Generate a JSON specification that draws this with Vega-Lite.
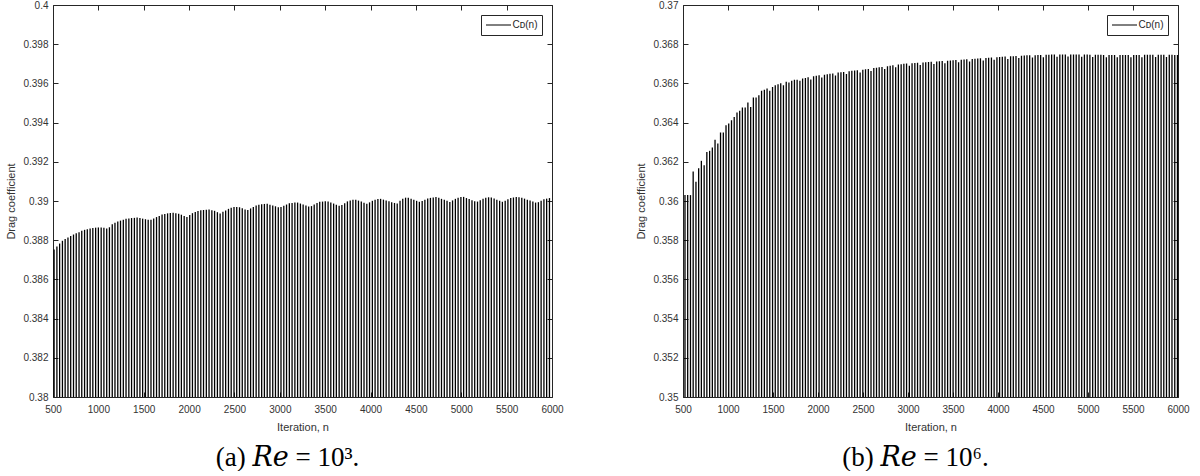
{
  "$schema": "https://vega.github.io/schema/vega-lite/v6.json",
  "background": "white",
  "padding": {"left": 5, "top": 0, "right": 5, "bottom": 0},
  "config": {
    "font": "Liberation Sans",
    "view": {"stroke": null},
    "axis": {
      "grid": false,
      "domainColor": "#262626",
      "domainWidth": 1,
      "tickColor": "#262626",
      "tickSize": -5,
      "labelColor": "#333333",
      "titleColor": "#333333",
      "labelFont": "Liberation Sans",
      "titleFont": "Liberation Sans",
      "labelFontSize": 10,
      "titleFontSize": 11,
      "titleFontWeight": "normal",
      "labelFlush": false,
      "labelOverlap": false
    },
    "title": {"font": "Liberation Serif, DejaVu Serif", "fontSize": 27, "fontWeight": "normal", "color": "black", "orient": "bottom", "anchor": "middle", "frame": "group", "offset": 13, "dx": -15},
    "legend": {
      "orient": "top-right",
      "offset": 10,
      "strokeColor": "#262626",
      "fillColor": "white",
      "padding": 4.5,
      "labelFont": "Liberation Sans",
      "labelFontSize": 10,
      "labelColor": "#262626",
      "symbolType": "M-1,0H4",
      "symbolSize": 100,
      "symbolStrokeWidth": 1,
      "labelOffset": 16,
      "title": null
    }
  },
  "datasets": {
    "re3": [
      {"n":512,"cd":0.38752},{"n":543,"cd":0.38768},{"n":573,"cd":0.38783},{"n":604,"cd":0.38797},{"n":634,"cd":0.38806},
      {"n":665,"cd":0.38814},{"n":695,"cd":0.38822},{"n":726,"cd":0.38829},{"n":756,"cd":0.38835},{"n":787,"cd":0.3884},
      {"n":817,"cd":0.38848},{"n":848,"cd":0.38853},{"n":878,"cd":0.38856},{"n":909,"cd":0.3886},{"n":939,"cd":0.38862},
      {"n":970,"cd":0.38864},{"n":1000,"cd":0.38865},{"n":1031,"cd":0.38865},{"n":1061,"cd":0.38864},{"n":1092,"cd":0.3886},
      {"n":1122,"cd":0.38866},{"n":1153,"cd":0.38881},{"n":1183,"cd":0.38889},{"n":1214,"cd":0.38895},{"n":1244,"cd":0.389},
      {"n":1275,"cd":0.38904},{"n":1305,"cd":0.38909},{"n":1336,"cd":0.38911},{"n":1366,"cd":0.38913},{"n":1397,"cd":0.38914},
      {"n":1427,"cd":0.38916},{"n":1458,"cd":0.38913},{"n":1488,"cd":0.3891},{"n":1519,"cd":0.38907},{"n":1549,"cd":0.38904},
      {"n":1580,"cd":0.38904},{"n":1610,"cd":0.38911},{"n":1641,"cd":0.38918},{"n":1671,"cd":0.38924},{"n":1702,"cd":0.38931},
      {"n":1732,"cd":0.38934},{"n":1763,"cd":0.38937},{"n":1793,"cd":0.38939},{"n":1824,"cd":0.3894},{"n":1854,"cd":0.38937},
      {"n":1885,"cd":0.38935},{"n":1915,"cd":0.3893},{"n":1946,"cd":0.38924},{"n":1976,"cd":0.38919},{"n":2007,"cd":0.38929},
      {"n":2037,"cd":0.38938},{"n":2068,"cd":0.38944},{"n":2098,"cd":0.38949},{"n":2129,"cd":0.38953},{"n":2159,"cd":0.38954},
      {"n":2190,"cd":0.38955},{"n":2220,"cd":0.38956},{"n":2251,"cd":0.38953},{"n":2281,"cd":0.3895},{"n":2312,"cd":0.38943},
      {"n":2342,"cd":0.38936},{"n":2373,"cd":0.38945},{"n":2403,"cd":0.38952},{"n":2434,"cd":0.3896},{"n":2464,"cd":0.38966},
      {"n":2495,"cd":0.3897},{"n":2525,"cd":0.38969},{"n":2556,"cd":0.38968},{"n":2586,"cd":0.38963},{"n":2617,"cd":0.38956},
      {"n":2647,"cd":0.38954},{"n":2678,"cd":0.38962},{"n":2708,"cd":0.3897},{"n":2739,"cd":0.38977},{"n":2769,"cd":0.38981},
      {"n":2800,"cd":0.38983},{"n":2830,"cd":0.38985},{"n":2861,"cd":0.38986},{"n":2891,"cd":0.38981},{"n":2922,"cd":0.38977},
      {"n":2952,"cd":0.38973},{"n":2983,"cd":0.38968},{"n":3013,"cd":0.38969},{"n":3044,"cd":0.38976},{"n":3074,"cd":0.38982},
      {"n":3105,"cd":0.38988},{"n":3135,"cd":0.3899},{"n":3166,"cd":0.38992},{"n":3196,"cd":0.38992},{"n":3227,"cd":0.38987},
      {"n":3257,"cd":0.38982},{"n":3288,"cd":0.38977},{"n":3318,"cd":0.38972},{"n":3349,"cd":0.38974},{"n":3379,"cd":0.38982},
      {"n":3410,"cd":0.3899},{"n":3440,"cd":0.38996},{"n":3471,"cd":0.38997},{"n":3501,"cd":0.38999},{"n":3532,"cd":0.38998},
      {"n":3562,"cd":0.38992},{"n":3593,"cd":0.38987},{"n":3623,"cd":0.38981},{"n":3654,"cd":0.38976},{"n":3684,"cd":0.3898},
      {"n":3715,"cd":0.38989},{"n":3745,"cd":0.38998},{"n":3776,"cd":0.39003},{"n":3806,"cd":0.39006},{"n":3837,"cd":0.39007},
      {"n":3867,"cd":0.39002},{"n":3898,"cd":0.38997},{"n":3928,"cd":0.38991},{"n":3959,"cd":0.38986},{"n":3989,"cd":0.38993},
      {"n":4020,"cd":0.39001},{"n":4050,"cd":0.39007},{"n":4081,"cd":0.3901},{"n":4111,"cd":0.39011},{"n":4142,"cd":0.39007},
      {"n":4172,"cd":0.39003},{"n":4203,"cd":0.38999},{"n":4233,"cd":0.38994},{"n":4264,"cd":0.3899},{"n":4294,"cd":0.38987},
      {"n":4325,"cd":0.39001},{"n":4355,"cd":0.39011},{"n":4386,"cd":0.39017},{"n":4416,"cd":0.39017},{"n":4447,"cd":0.39012},
      {"n":4477,"cd":0.39006},{"n":4508,"cd":0.39001},{"n":4538,"cd":0.38996},{"n":4569,"cd":0.39},{"n":4599,"cd":0.39006},
      {"n":4630,"cd":0.39013},{"n":4660,"cd":0.39016},{"n":4691,"cd":0.39018},{"n":4721,"cd":0.3902},{"n":4752,"cd":0.39016},
      {"n":4782,"cd":0.39011},{"n":4813,"cd":0.39006},{"n":4843,"cd":0.39001},{"n":4874,"cd":0.38995},{"n":4904,"cd":0.39003},
      {"n":4935,"cd":0.39011},{"n":4965,"cd":0.39017},{"n":4996,"cd":0.3902},{"n":5026,"cd":0.39021},{"n":5057,"cd":0.39015},
      {"n":5087,"cd":0.3901},{"n":5118,"cd":0.39004},{"n":5148,"cd":0.38999},{"n":5179,"cd":0.38997},{"n":5209,"cd":0.39004},
      {"n":5240,"cd":0.39012},{"n":5270,"cd":0.39017},{"n":5301,"cd":0.39019},{"n":5331,"cd":0.39018},{"n":5362,"cd":0.39013},
      {"n":5392,"cd":0.39007},{"n":5423,"cd":0.39001},{"n":5453,"cd":0.38996},{"n":5484,"cd":0.39001},{"n":5514,"cd":0.39009},
      {"n":5545,"cd":0.39015},{"n":5575,"cd":0.39018},{"n":5606,"cd":0.3902},{"n":5636,"cd":0.39019},{"n":5667,"cd":0.39016},
      {"n":5697,"cd":0.39012},{"n":5728,"cd":0.39007},{"n":5758,"cd":0.39002},{"n":5789,"cd":0.38997},{"n":5819,"cd":0.38992},
      {"n":5850,"cd":0.38994},{"n":5880,"cd":0.39001},{"n":5911,"cd":0.39009},{"n":5941,"cd":0.39012},{"n":5972,"cd":0.39015}
    ],
    "re6": [
      {"n":522,"cd":0.3603},{"n":552,"cd":0.3603},{"n":583,"cd":0.3603},{"n":613,"cd":0.3615},{"n":644,"cd":0.36098},
      {"n":674,"cd":0.36167},{"n":704,"cd":0.36205},{"n":735,"cd":0.36183},{"n":765,"cd":0.3625},{"n":796,"cd":0.36256},
      {"n":826,"cd":0.36273},{"n":856,"cd":0.36312},{"n":887,"cd":0.36293},{"n":917,"cd":0.3635},{"n":948,"cd":0.3635},
      {"n":978,"cd":0.36387},{"n":1008,"cd":0.36395},{"n":1039,"cd":0.36412},{"n":1069,"cd":0.36429},{"n":1100,"cd":0.36451},
      {"n":1130,"cd":0.3646},{"n":1160,"cd":0.36477},{"n":1191,"cd":0.36477},{"n":1221,"cd":0.36502},{"n":1252,"cd":0.3648},
      {"n":1282,"cd":0.36528},{"n":1312,"cd":0.36528},{"n":1343,"cd":0.3654},{"n":1373,"cd":0.36562},{"n":1404,"cd":0.36567},
      {"n":1434,"cd":0.36574},{"n":1464,"cd":0.36562},{"n":1495,"cd":0.36582},{"n":1525,"cd":0.36591},{"n":1556,"cd":0.36596},
      {"n":1586,"cd":0.36601},{"n":1616,"cd":0.36591},{"n":1647,"cd":0.36608},{"n":1677,"cd":0.36604},{"n":1708,"cd":0.36613},
      {"n":1738,"cd":0.36618},{"n":1768,"cd":0.36618},{"n":1799,"cd":0.36613},{"n":1829,"cd":0.36625},{"n":1860,"cd":0.36628},
      {"n":1890,"cd":0.36632},{"n":1920,"cd":0.3662},{"n":1951,"cd":0.36636},{"n":1981,"cd":0.36639},{"n":2012,"cd":0.36641},
      {"n":2042,"cd":0.3663},{"n":2072,"cd":0.36644},{"n":2103,"cd":0.36647},{"n":2133,"cd":0.36649},{"n":2164,"cd":0.36651},
      {"n":2194,"cd":0.3664},{"n":2224,"cd":0.36655},{"n":2255,"cd":0.36657},{"n":2285,"cd":0.36658},{"n":2316,"cd":0.36648},
      {"n":2346,"cd":0.36662},{"n":2376,"cd":0.36664},{"n":2407,"cd":0.36666},{"n":2437,"cd":0.36667},{"n":2468,"cd":0.36656},
      {"n":2498,"cd":0.3667},{"n":2528,"cd":0.36672},{"n":2559,"cd":0.36674},{"n":2589,"cd":0.36663},{"n":2620,"cd":0.36678},
      {"n":2650,"cd":0.3668},{"n":2680,"cd":0.36682},{"n":2711,"cd":0.36684},{"n":2741,"cd":0.36673},{"n":2772,"cd":0.36688},
      {"n":2802,"cd":0.3669},{"n":2832,"cd":0.36693},{"n":2863,"cd":0.36683},{"n":2893,"cd":0.36697},{"n":2924,"cd":0.36698},
      {"n":2954,"cd":0.367},{"n":2984,"cd":0.36701},{"n":3015,"cd":0.3669},{"n":3045,"cd":0.36703},{"n":3076,"cd":0.36704},
      {"n":3106,"cd":0.36705},{"n":3136,"cd":0.36694},{"n":3167,"cd":0.36707},{"n":3197,"cd":0.36708},{"n":3228,"cd":0.36709},
      {"n":3258,"cd":0.3671},{"n":3288,"cd":0.36699},{"n":3319,"cd":0.36712},{"n":3349,"cd":0.36713},{"n":3380,"cd":0.36714},
      {"n":3410,"cd":0.36703},{"n":3440,"cd":0.36716},{"n":3471,"cd":0.36717},{"n":3501,"cd":0.36718},{"n":3532,"cd":0.36719},
      {"n":3562,"cd":0.36708},{"n":3592,"cd":0.36721},{"n":3623,"cd":0.36722},{"n":3653,"cd":0.36723},{"n":3684,"cd":0.36712},
      {"n":3714,"cd":0.36725},{"n":3744,"cd":0.36726},{"n":3775,"cd":0.36727},{"n":3805,"cd":0.36728},{"n":3836,"cd":0.36717},
      {"n":3866,"cd":0.3673},{"n":3896,"cd":0.36731},{"n":3927,"cd":0.36732},{"n":3957,"cd":0.36721},{"n":3988,"cd":0.36734},
      {"n":4018,"cd":0.36735},{"n":4048,"cd":0.36736},{"n":4079,"cd":0.36737},{"n":4109,"cd":0.36725},{"n":4140,"cd":0.36738},
      {"n":4170,"cd":0.36739},{"n":4200,"cd":0.3674},{"n":4231,"cd":0.36729},{"n":4261,"cd":0.36741},{"n":4292,"cd":0.36742},
      {"n":4322,"cd":0.36743},{"n":4352,"cd":0.36744},{"n":4383,"cd":0.36732},{"n":4413,"cd":0.36744},{"n":4444,"cd":0.36745},
      {"n":4474,"cd":0.36745},{"n":4504,"cd":0.36734},{"n":4535,"cd":0.36746},{"n":4565,"cd":0.36746},{"n":4596,"cd":0.36747},
      {"n":4626,"cd":0.36747},{"n":4656,"cd":0.36736},{"n":4687,"cd":0.36748},{"n":4717,"cd":0.36748},{"n":4748,"cd":0.36748},
      {"n":4778,"cd":0.36737},{"n":4808,"cd":0.36748},{"n":4839,"cd":0.36748},{"n":4869,"cd":0.36747},{"n":4900,"cd":0.36747},
      {"n":4930,"cd":0.36736},{"n":4960,"cd":0.36747},{"n":4991,"cd":0.36747},{"n":5021,"cd":0.36746},{"n":5052,"cd":0.36735},
      {"n":5082,"cd":0.36746},{"n":5112,"cd":0.36746},{"n":5143,"cd":0.36746},{"n":5173,"cd":0.36745},{"n":5204,"cd":0.36734},
      {"n":5234,"cd":0.36745},{"n":5264,"cd":0.36745},{"n":5295,"cd":0.36745},{"n":5325,"cd":0.36734},{"n":5356,"cd":0.36745},
      {"n":5386,"cd":0.36745},{"n":5416,"cd":0.36745},{"n":5447,"cd":0.36745},{"n":5477,"cd":0.36734},{"n":5508,"cd":0.36745},
      {"n":5538,"cd":0.36745},{"n":5568,"cd":0.36745},{"n":5599,"cd":0.36734},{"n":5629,"cd":0.36746},{"n":5660,"cd":0.36746},
      {"n":5690,"cd":0.36746},{"n":5720,"cd":0.36746},{"n":5751,"cd":0.36735},{"n":5781,"cd":0.36746},{"n":5812,"cd":0.36746},
      {"n":5842,"cd":0.36746},{"n":5872,"cd":0.36735},{"n":5903,"cd":0.36746},{"n":5933,"cd":0.36746},{"n":5964,"cd":0.36745},
      {"n":5994,"cd":0.36745}
    ]
  },
  "spacing": 71,
  "resolve": {"scale": {"color": "independent"}, "legend": {"color": "independent"}},
  "hconcat": [
    {
      "title": {"text": "(a) 𝑅𝑒 = 10³."},
      "width": 499,
      "height": 392,
      "data": {"name": "re3"},
      "layer": [
        {
          "mark": {"type": "rule", "strokeWidth": 1.3, "clip": true},
          "encoding": {
            "x": {"field": "n", "type": "quantitative",
                  "scale": {"domain": [500, 6000], "nice": false, "zero": false},
                  "axis": {"title": "Iteration, n", "values": [500,1000,1500,2000,2500,3000,3500,4000,4500,5000,5500,6000], "format": "d", "labelPadding": 12.5, "titlePadding": 6.5}},
            "y": {"field": "cd", "type": "quantitative",
                  "scale": {"domain": [0.38, 0.4], "nice": false, "zero": false},
                  "axis": {"title": "Drag coefficient", "values": [0.38,0.382,0.384,0.386,0.388,0.39,0.392,0.394,0.396,0.398,0.4], "format": ".3~f", "labelPadding": 10, "titlePadding": 6}},
            "y2": {"datum": 0.38},
            "color": {"datum": "Cᴅ(n)", "scale": {"range": ["black"]}, "legend": {}}
          }
        },
        {
          "mark": {"type": "point", "opacity": 0},
          "encoding": {
            "x": {"field": "n", "type": "quantitative",
                  "scale": {"domain": [500, 6000], "nice": false, "zero": false},
                  "axis": {"orient": "top", "labels": false, "title": null, "values": [500,1000,1500,2000,2500,3000,3500,4000,4500,5000,5500,6000]}},
            "y": {"field": "cd", "type": "quantitative",
                  "scale": {"domain": [0.38, 0.4], "nice": false, "zero": false},
                  "axis": {"orient": "right", "labels": false, "title": null, "values": [0.38,0.382,0.384,0.386,0.388,0.39,0.392,0.394,0.396,0.398,0.4]}}
          }
        }
      ],
      "resolve": {"axis": {"x": "independent", "y": "independent"}}
    },
    {
      "title": {"text": "(b) 𝑅𝑒 = 10⁶."},
      "width": 495,
      "height": 392,
      "data": {"name": "re6"},
      "layer": [
        {
          "mark": {"type": "rule", "strokeWidth": 1.3, "clip": true},
          "encoding": {
            "x": {"field": "n", "type": "quantitative",
                  "scale": {"domain": [500, 6000], "nice": false, "zero": false},
                  "axis": {"title": "Iteration, n", "values": [500,1000,1500,2000,2500,3000,3500,4000,4500,5000,5500,6000], "format": "d", "labelPadding": 12.5, "titlePadding": 6.5}},
            "y": {"field": "cd", "type": "quantitative",
                  "scale": {"domain": [0.35, 0.37], "nice": false, "zero": false},
                  "axis": {"title": "Drag coefficient", "values": [0.35,0.352,0.354,0.356,0.358,0.36,0.362,0.364,0.366,0.368,0.37], "format": ".3~f", "labelPadding": 10, "titlePadding": 6}},
            "y2": {"datum": 0.35},
            "color": {"datum": "Cᴅ(n)", "scale": {"range": ["black"]}, "legend": {}}
          }
        },
        {
          "mark": {"type": "point", "opacity": 0},
          "encoding": {
            "x": {"field": "n", "type": "quantitative",
                  "scale": {"domain": [500, 6000], "nice": false, "zero": false},
                  "axis": {"orient": "top", "labels": false, "title": null, "values": [500,1000,1500,2000,2500,3000,3500,4000,4500,5000,5500,6000]}},
            "y": {"field": "cd", "type": "quantitative",
                  "scale": {"domain": [0.35, 0.37], "nice": false, "zero": false},
                  "axis": {"orient": "right", "labels": false, "title": null, "values": [0.35,0.352,0.354,0.356,0.358,0.36,0.362,0.364,0.366,0.368,0.37]}}
          }
        }
      ],
      "resolve": {"axis": {"x": "independent", "y": "independent"}}
    }
  ]
}
